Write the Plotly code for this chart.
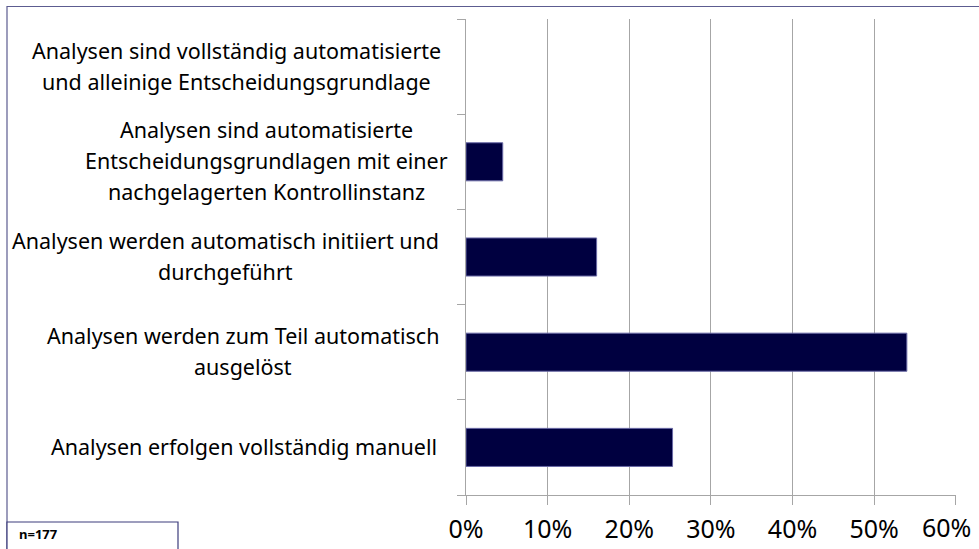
import plotly.graph_objects as go

# Survey answers, listed bottom to top as they appear on the category axis
categories = [
    "Analysen erfolgen vollständig manuell",
    "Analysen werden zum Teil automatisch ausgelöst",
    "Analysen werden automatisch initiiert und durchgeführt",
    "Analysen sind automatisierte Entscheidungsgrundlagen mit einer nachgelagerten Kontrollinstanz",
    "Analysen sind vollständig automatisierte und alleinige Entscheidungsgrundlage",
]
# Label lines as they are wrapped next to the axis
label_lines = [
    ["Analysen erfolgen vollständig manuell"],
    ["Analysen werden zum Teil automatisch", "ausgelöst"],
    ["Analysen werden automatisch initiiert und", "durchgeführt"],
    ["Analysen sind automatisierte", "Entscheidungsgrundlagen mit einer", "nachgelagerten Kontrollinstanz"],
    ["Analysen sind vollständig automatisierte", "und alleinige Entscheidungsgrundlage"],
]
# Share of respondents in percent
shares = [25.3, 54.0, 16.0, 4.5, 0.0]
tick_values = [0, 10, 20, 30, 40, 50, 60]
tick_labels = ["0%", "10%", "20%", "30%", "40%", "50%", "60%"]
sample_note = "n=177"

FONT = "Noto Sans"
W, H = 979, 549
L, R, T, B = 466, 23, 19, 54
plot_w = W - L - R
plot_h = H - T - B

fig = go.Figure(
    go.Bar(
        x=shares,
        y=categories,
        orientation="h",
        marker=dict(
            color="#000040",
            line=dict(color="#6a6aa6", width=[1 if v > 0 else 0 for v in shares]),
        ),
        hoverinfo="x+y",
    )
)

# Centred, wrapped category labels to the left of the axis
label_centres = [244, 243, 225, 266, 236]
line_gap = 31
annotations = []
for cat, lines, cx in zip(categories, label_lines, label_centres):
    n = len(lines)
    for j, txt in enumerate(lines):
        off = (j - (n - 1) / 2) * line_gap
        annotations.append(
            dict(
                text=txt, xref="paper", x=0, xshift=cx - L,
                yref="y", y=cat, yshift=-off + 1,
                xanchor="center", yanchor="middle", showarrow=False,
                font=dict(family=FONT, size=21.5, color="#000000"),
            )
        )

# The outermost tick label is pulled inwards so it stays inside the chart
axis_labels = tick_labels[:-1] + [""]
annotations.append(
    dict(
        text=tick_labels[-1], xref="x", x=tick_values[-1], xshift=-9,
        yref="paper", y=0, yshift=-32,
        xanchor="center", yanchor="middle", showarrow=False,
        font=dict(family=FONT, size=25, color="#000000"),
    )
)

annotations.append(
    dict(
        text="<b>" + sample_note + "</b>", xref="paper", yref="paper",
        x=(17 - L) / plot_w, y=(H - B - 534) / plot_h,
        xanchor="left", yanchor="middle", showarrow=False,
        font=dict(family=FONT, size=13, color="#000000"),
    )
)

def px_x(px):
    return (px - L) / plot_w

def px_y(py):
    return (H - B - py) / plot_h

shapes = [
    # outer chart border
    dict(type="rect", xref="paper", yref="paper",
         x0=px_x(7), x1=px_x(990), y0=px_y(560), y1=px_y(6.5),
         line=dict(color="#5c5c90", width=1.2), fillcolor="rgba(0,0,0,0)", layer="below"),
    # sample size box
    dict(type="rect", xref="paper", yref="paper",
         x0=px_x(7), x1=px_x(178), y0=px_y(560), y1=px_y(522),
         line=dict(color="#3c3c7c", width=1.2), fillcolor="#ffffff", layer="above"),
]

fig.update_layout(
    width=W, height=H,
    margin=dict(l=L, r=R, t=T, b=B, autoexpand=False),
    paper_bgcolor="#ffffff", plot_bgcolor="#ffffff",
    bargap=0.6,
    showlegend=False,
    annotations=annotations,
    shapes=shapes,
    xaxis=dict(
        range=[0, 60.02], tickvals=tick_values, ticktext=axis_labels,
        showgrid=True, gridcolor="#a6a6a6", gridwidth=1,
        showline=True, linecolor="#a6a6a6", linewidth=1,
        ticks="outside", ticklen=9, tickcolor="#a6a6a6",
        tickfont=dict(family=FONT, size=25, color="#000000"),
        ticklabelstandoff=3, ticklabeloverflow="allow",
        zeroline=False, fixedrange=True, automargin=False,
    ),
    yaxis=dict(
        type="category", categoryorder="array", categoryarray=categories,
        showticklabels=False, tickson="boundaries",
        ticks="outside", ticklen=8, tickcolor="#a6a6a6",
        showline=True, linecolor="#a6a6a6", linewidth=1,
        showgrid=False, fixedrange=True, automargin=False,
    ),
)

fig.write_html("out.html")
